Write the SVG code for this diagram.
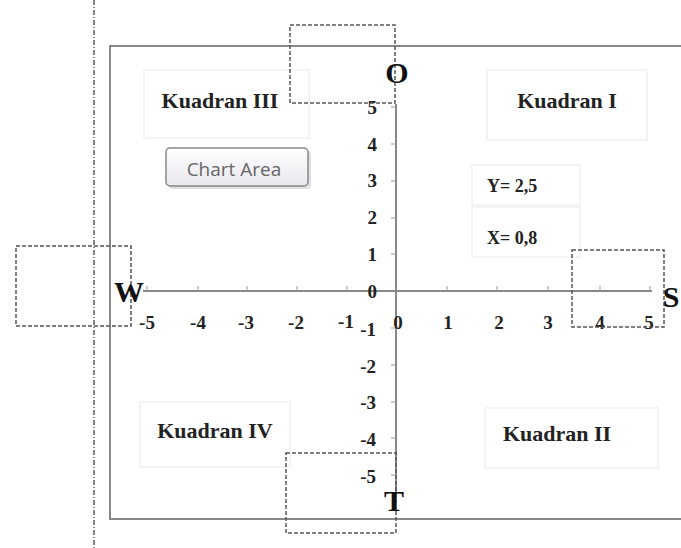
<svg xmlns="http://www.w3.org/2000/svg" width="681" height="548" viewBox="0 0 681 548">
<defs>
<style>
.lbl{font-family:"Liberation Serif","Times New Roman",serif;font-weight:bold;fill:#222}
.q{font-size:22px}
.tk{font-size:19px;text-anchor:middle}
.ty{font-size:19px;text-anchor:end}
.big{font-size:30px;fill:#111}
.dash{fill:none;stroke:#555;stroke-width:1.5;stroke-dasharray:4 2}
.faint{fill:#fff;stroke:#f0f0f0;stroke-width:1.5}
.axis{stroke:#888;stroke-width:2;fill:none}
.tick{stroke:#999;stroke-width:1}
</style>
<linearGradient id="tip" x1="0" y1="0" x2="0" y2="1">
<stop offset="0" stop-color="#ffffff"/>
<stop offset="1" stop-color="#e8e8ee"/>
</linearGradient>
</defs>
<rect width="681" height="548" fill="#fff"/>
<g id="chart-border">
<rect x="110" y="46" width="590" height="473" fill="none" stroke="#888" stroke-width="2"/>
</g>
<g id="guide-line">
<line x1="94" y1="0" x2="94" y2="548" stroke="#333" stroke-width="1.2" stroke-dasharray="5 2 1 2"/>
</g>
<g id="quadrant-boxes">
<rect class="faint" x="144" y="70" width="165" height="68"/>
<rect class="faint" x="487" y="70" width="160" height="70"/>
<rect class="faint" x="472" y="165" width="108" height="40"/>
<rect class="faint" x="472" y="207" width="108" height="50"/>
<rect class="faint" x="140" y="402" width="150" height="65"/>
<rect class="faint" x="485" y="408" width="173" height="60"/>
</g>
<g id="connectors">
<line class="axis" x1="396" y1="104" x2="396" y2="505"/>
<line class="axis" x1="143" y1="291" x2="652" y2="291"/>
<g class="tick">
<line x1="147" y1="286" x2="147" y2="291"/>
<line x1="198" y1="286" x2="198" y2="291"/>
<line x1="247" y1="286" x2="247" y2="291"/>
<line x1="297" y1="286" x2="297" y2="291"/>
<line x1="347" y1="286" x2="347" y2="291"/>
<line x1="447" y1="286" x2="447" y2="291"/>
<line x1="497" y1="286" x2="497" y2="291"/>
<line x1="548" y1="286" x2="548" y2="291"/>
<line x1="600" y1="286" x2="600" y2="291"/>
<line x1="650" y1="286" x2="650" y2="291"/>
<line x1="391" y1="107" x2="396" y2="107"/>
<line x1="391" y1="144" x2="396" y2="144"/>
<line x1="391" y1="181" x2="396" y2="181"/>
<line x1="391" y1="218" x2="396" y2="218"/>
<line x1="391" y1="254" x2="396" y2="254"/>
<line x1="391" y1="328" x2="396" y2="328"/>
<line x1="391" y1="365" x2="396" y2="365"/>
<line x1="391" y1="402" x2="396" y2="402"/>
<line x1="391" y1="438" x2="396" y2="438"/>
<line x1="391" y1="475" x2="396" y2="475"/>
</g>
</g>
<g id="x-labels" class="lbl">
<text class="tk" x="147" y="329">-5</text>
<text class="tk" x="198" y="329">-4</text>
<text class="tk" x="246" y="329">-3</text>
<text class="tk" x="296" y="329">-2</text>
<text class="tk" x="346" y="328">-1</text>
<text class="tk" x="398" y="329">0</text>
<text class="tk" x="448" y="329">1</text>
<text class="tk" x="499" y="329">2</text>
<text class="tk" x="548" y="329">3</text>
<text class="tk" x="600" y="329">4</text>
<text class="tk" x="649" y="329">5</text>
</g>
<g id="y-labels" class="lbl">
<text class="ty" x="377" y="114">5</text>
<text class="ty" x="377" y="151">4</text>
<text class="ty" x="377" y="187">3</text>
<text class="ty" x="377" y="224">2</text>
<text class="ty" x="377" y="261">1</text>
<text class="ty" x="377" y="298">0</text>
<text class="ty" x="376" y="336">-1</text>
<text class="ty" x="376" y="373">-2</text>
<text class="ty" x="376" y="409">-3</text>
<text class="ty" x="376" y="446">-4</text>
<text class="ty" x="376" y="483">-5</text>
</g>
<g id="dashed-boxes">
<rect class="dash" x="290" y="25" width="105" height="78"/>
<rect class="dash" x="16" y="246" width="115" height="80"/>
<rect class="dash" x="572" y="250" width="92" height="77"/>
<rect class="dash" x="286" y="453" width="110" height="80"/>
</g>
<g id="node-O"><text class="lbl big" x="397" y="83" text-anchor="middle">O</text></g>
<g id="node-W"><text class="lbl big" x="129" y="302" text-anchor="middle">W</text></g>
<g id="node-S"><text class="lbl big" x="671" y="307" text-anchor="middle">S</text></g>
<g id="node-T"><text class="lbl big" x="394" y="511" text-anchor="middle">T</text></g>
<g id="kuadran-III"><text class="lbl q" x="220" y="108" text-anchor="middle">Kuadran III</text></g>
<g id="kuadran-I"><text class="lbl q" x="567" y="108" text-anchor="middle">Kuadran I</text></g>
<g id="kuadran-IV"><text class="lbl q" x="215" y="438" text-anchor="middle">Kuadran IV</text></g>
<g id="kuadran-II"><text class="lbl q" x="557" y="441" text-anchor="middle">Kuadran II</text></g>
<g id="y-value"><text class="lbl" x="487" y="192" font-size="18">Y= 2,5</text></g>
<g id="x-value"><text class="lbl" x="487" y="244" font-size="18">X= 0,8</text></g>
<g id="chart-area-tip">
<rect x="169" y="151" width="142" height="38" rx="4" fill="#ccc" opacity="0.6"/>
<rect x="166" y="148" width="142" height="38" rx="4" fill="url(#tip)" stroke="#888" stroke-width="1.5"/>
<text x="234" y="176" text-anchor="middle" font-family="'Open Sans','DejaVu Sans',sans-serif" font-size="19" fill="#666">Chart Area</text>
</g>
</svg>
